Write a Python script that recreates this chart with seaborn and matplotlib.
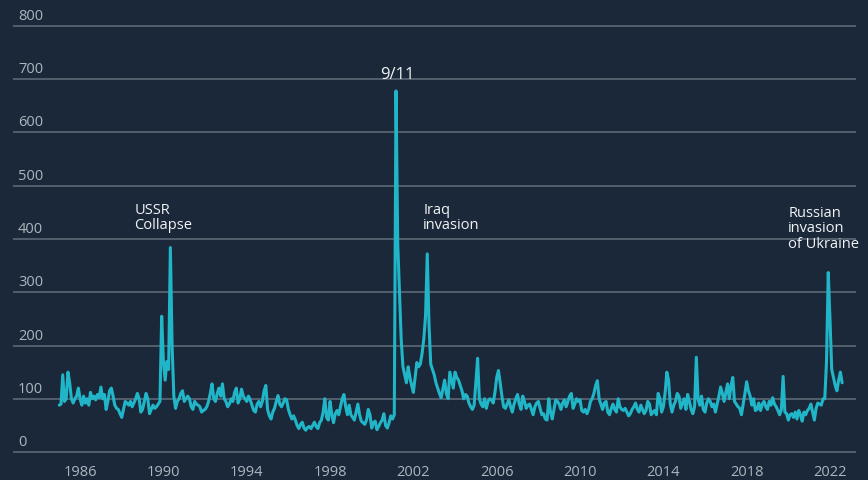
import numpy as np
import pandas as pd
import matplotlib
matplotlib.use("Agg")
import matplotlib.pyplot as plt
import seaborn as sns

# monthly geopolitical risk index, Jan 1985 - Aug 2022
gpr_1985_1994 = [
    88, 90, 145, 95, 100, 150, 130, 100, 92, 100, 105, 120,      # 1985
    100, 88, 105, 92, 100, 88, 112, 100, 105, 98, 108, 102,      # 1986
    122, 100, 108, 80, 95, 115, 120, 105, 88, 82, 80, 72,        # 1987
    65, 80, 95, 92, 88, 95, 85, 92, 100, 110, 100, 75,           # 1988
    80, 95, 110, 100, 72, 80, 88, 82, 85, 90, 95, 255,           # 1989
    170, 135, 170, 155, 384, 200, 105, 82, 95, 100, 110, 115,    # 1990
    95, 100, 105, 100, 85, 80, 95, 90, 88, 85, 75, 78,           # 1991
    80, 85, 95, 110, 128, 100, 95, 110, 120, 105, 128, 100,      # 1992
    95, 85, 90, 100, 95, 112, 120, 92, 100, 118, 105, 100,       # 1993
    95, 105, 98, 88, 78, 75, 90, 95, 85, 95, 115, 125,           # 1994
]
gpr_1995_2004 = [
    80, 68, 62, 75, 82, 95, 106, 90, 85, 92, 100, 98,            # 1995
    80, 70, 62, 68, 60, 50, 44, 52, 56, 45, 41, 46,              # 1996
    48, 44, 50, 56, 48, 44, 55, 60, 75, 100, 65, 60,             # 1997
    95, 70, 55, 72, 78, 70, 85, 100, 108, 85, 70, 88,            # 1998
    70, 65, 60, 75, 90, 70, 58, 55, 52, 60, 80, 70,              # 1999
    45, 55, 58, 42, 48, 55, 60, 72, 50, 45, 55, 68,              # 2000
    62, 70, 678, 390, 300, 210, 160, 145, 130, 160, 140, 125,    # 2001
    112, 140, 168, 160, 165, 185, 212, 255, 372, 240, 165, 155,  # 2002
    145, 130, 120, 110, 102, 118, 135, 110, 100, 150, 135, 120,  # 2003
    150, 140, 135, 125, 115, 100, 108, 105, 92, 85, 80, 88,      # 2004
]
gpr_2005_2014 = [
    130, 176, 100, 90, 85, 100, 82, 95, 100, 98, 92, 112,        # 2005
    140, 153, 130, 105, 85, 82, 90, 98, 85, 75, 90, 100,         # 2006
    108, 90, 80, 105, 95, 82, 88, 90, 80, 70, 85, 92,            # 2007
    95, 82, 70, 72, 62, 60, 100, 75, 62, 80, 98, 95,             # 2008
    90, 80, 92, 98, 85, 95, 105, 110, 82, 90, 100, 95,           # 2009
    98, 78, 75, 80, 72, 80, 95, 100, 110, 125, 134, 100,         # 2010
    90, 80, 92, 95, 75, 70, 82, 90, 80, 75, 100, 85,             # 2011
    80, 78, 82, 75, 68, 72, 80, 85, 92, 80, 75, 88,              # 2012
    80, 72, 78, 95, 90, 70, 75, 78, 70, 110, 100, 75,            # 2013
    85, 110, 150, 135, 90, 75, 88, 95, 110, 105, 82, 92,         # 2014
]
gpr_2015_2022 = [
    100, 80, 108, 95, 80, 72, 85, 178, 100, 88, 105, 80,         # 2015
    75, 92, 100, 95, 85, 90, 75, 90, 105, 122, 110, 95,          # 2016
    112, 128, 100, 125, 140, 95, 90, 85, 82, 70, 90, 110,        # 2017
    132, 115, 105, 88, 100, 78, 80, 92, 78, 90, 95, 85,          # 2018
    80, 95, 88, 102, 90, 85, 78, 70, 80, 142, 75, 72,            # 2019
    60, 70, 72, 65, 75, 62, 78, 70, 58, 75, 70, 78,              # 2020
    82, 90, 75, 60, 82, 92, 90, 88, 100, 100, 170, 337,          # 2021
    250, 155, 140, 125, 115, 135, 150, 130,                      # 2022
]
gpr = gpr_1985_1994 + gpr_1995_2004 + gpr_2005_2014 + gpr_2015_2022

start_year = 1985
year_ticks = [1986, 1990, 1994, 1998, 2002, 2006, 2010, 2014, 2018, 2022]
y_ticks = [0, 100, 200, 300, 400, 500, 600, 700, 800]

# label, x, y, align, valign, size
events = [
    ("USSR\nCollapse", 1988.6, 470, "left", "top", 10.5),
    ("9/11", 2001.22, 703, "center", "baseline", 12),
    ("Iraq\ninvasion", 2002.47, 470, "left", "top", 10.5),
    ("Russian\ninvasion\nof Ukraine", 2020.0, 464, "left", "top", 10.5),
]

BG = "#1a2839"
LINE = "#21b5c8"
GRID = "#636e7a"
TICK = "#aeb6bf"
NOTE = "#f2f4f6"

df = pd.DataFrame({
    "year": start_year + np.arange(len(gpr)) / 12,
    "gpr": gpr,
})

sns.set_theme(style="dark")
plt.rcParams["font.family"] = ["Open Sans", "DejaVu Sans"]

fig = plt.figure(figsize=(8.68, 4.81), dpi=100, facecolor=BG)
ax = fig.add_axes([0.015, 0.0526, 0.9712, 0.897])
ax.set_facecolor(BG)

for v in y_ticks:
    ax.axhline(v, color=GRID, linewidth=1.1, zorder=1)

sns.lineplot(data=df, x="year", y="gpr", color=LINE, linewidth=2.2, ax=ax, zorder=3)

ax.set_xlim(1982.78, 2023.25)
ax.set_ylim(-5, 805)
for s in ax.spines.values():
    s.set_visible(False)
ax.grid(False)
ax.set_xlabel("")
ax.set_ylabel("")

ax.set_xticks(year_ticks)
ax.set_xticklabels([str(y) for y in year_ticks])
ax.tick_params(axis="x", length=0, pad=7, labelsize=10.5, labelcolor=TICK)
ax.set_yticks([])

# y labels sit above their gridlines at the left edge
trans = ax.get_yaxis_transform()
for v in y_ticks:
    ax.annotate(str(v), xy=(0.006, v), xycoords=trans, xytext=(0, 5),
                textcoords="offset points", ha="left", va="baseline",
                fontsize=10.5, color=TICK)

for label, x, y, ha, va, size in events:
    ax.text(x, y, label, ha=ha, va=va, fontsize=size, color=NOTE,
            linespacing=1.05, zorder=4)

fig.savefig("out.png", dpi=100, facecolor=BG)
